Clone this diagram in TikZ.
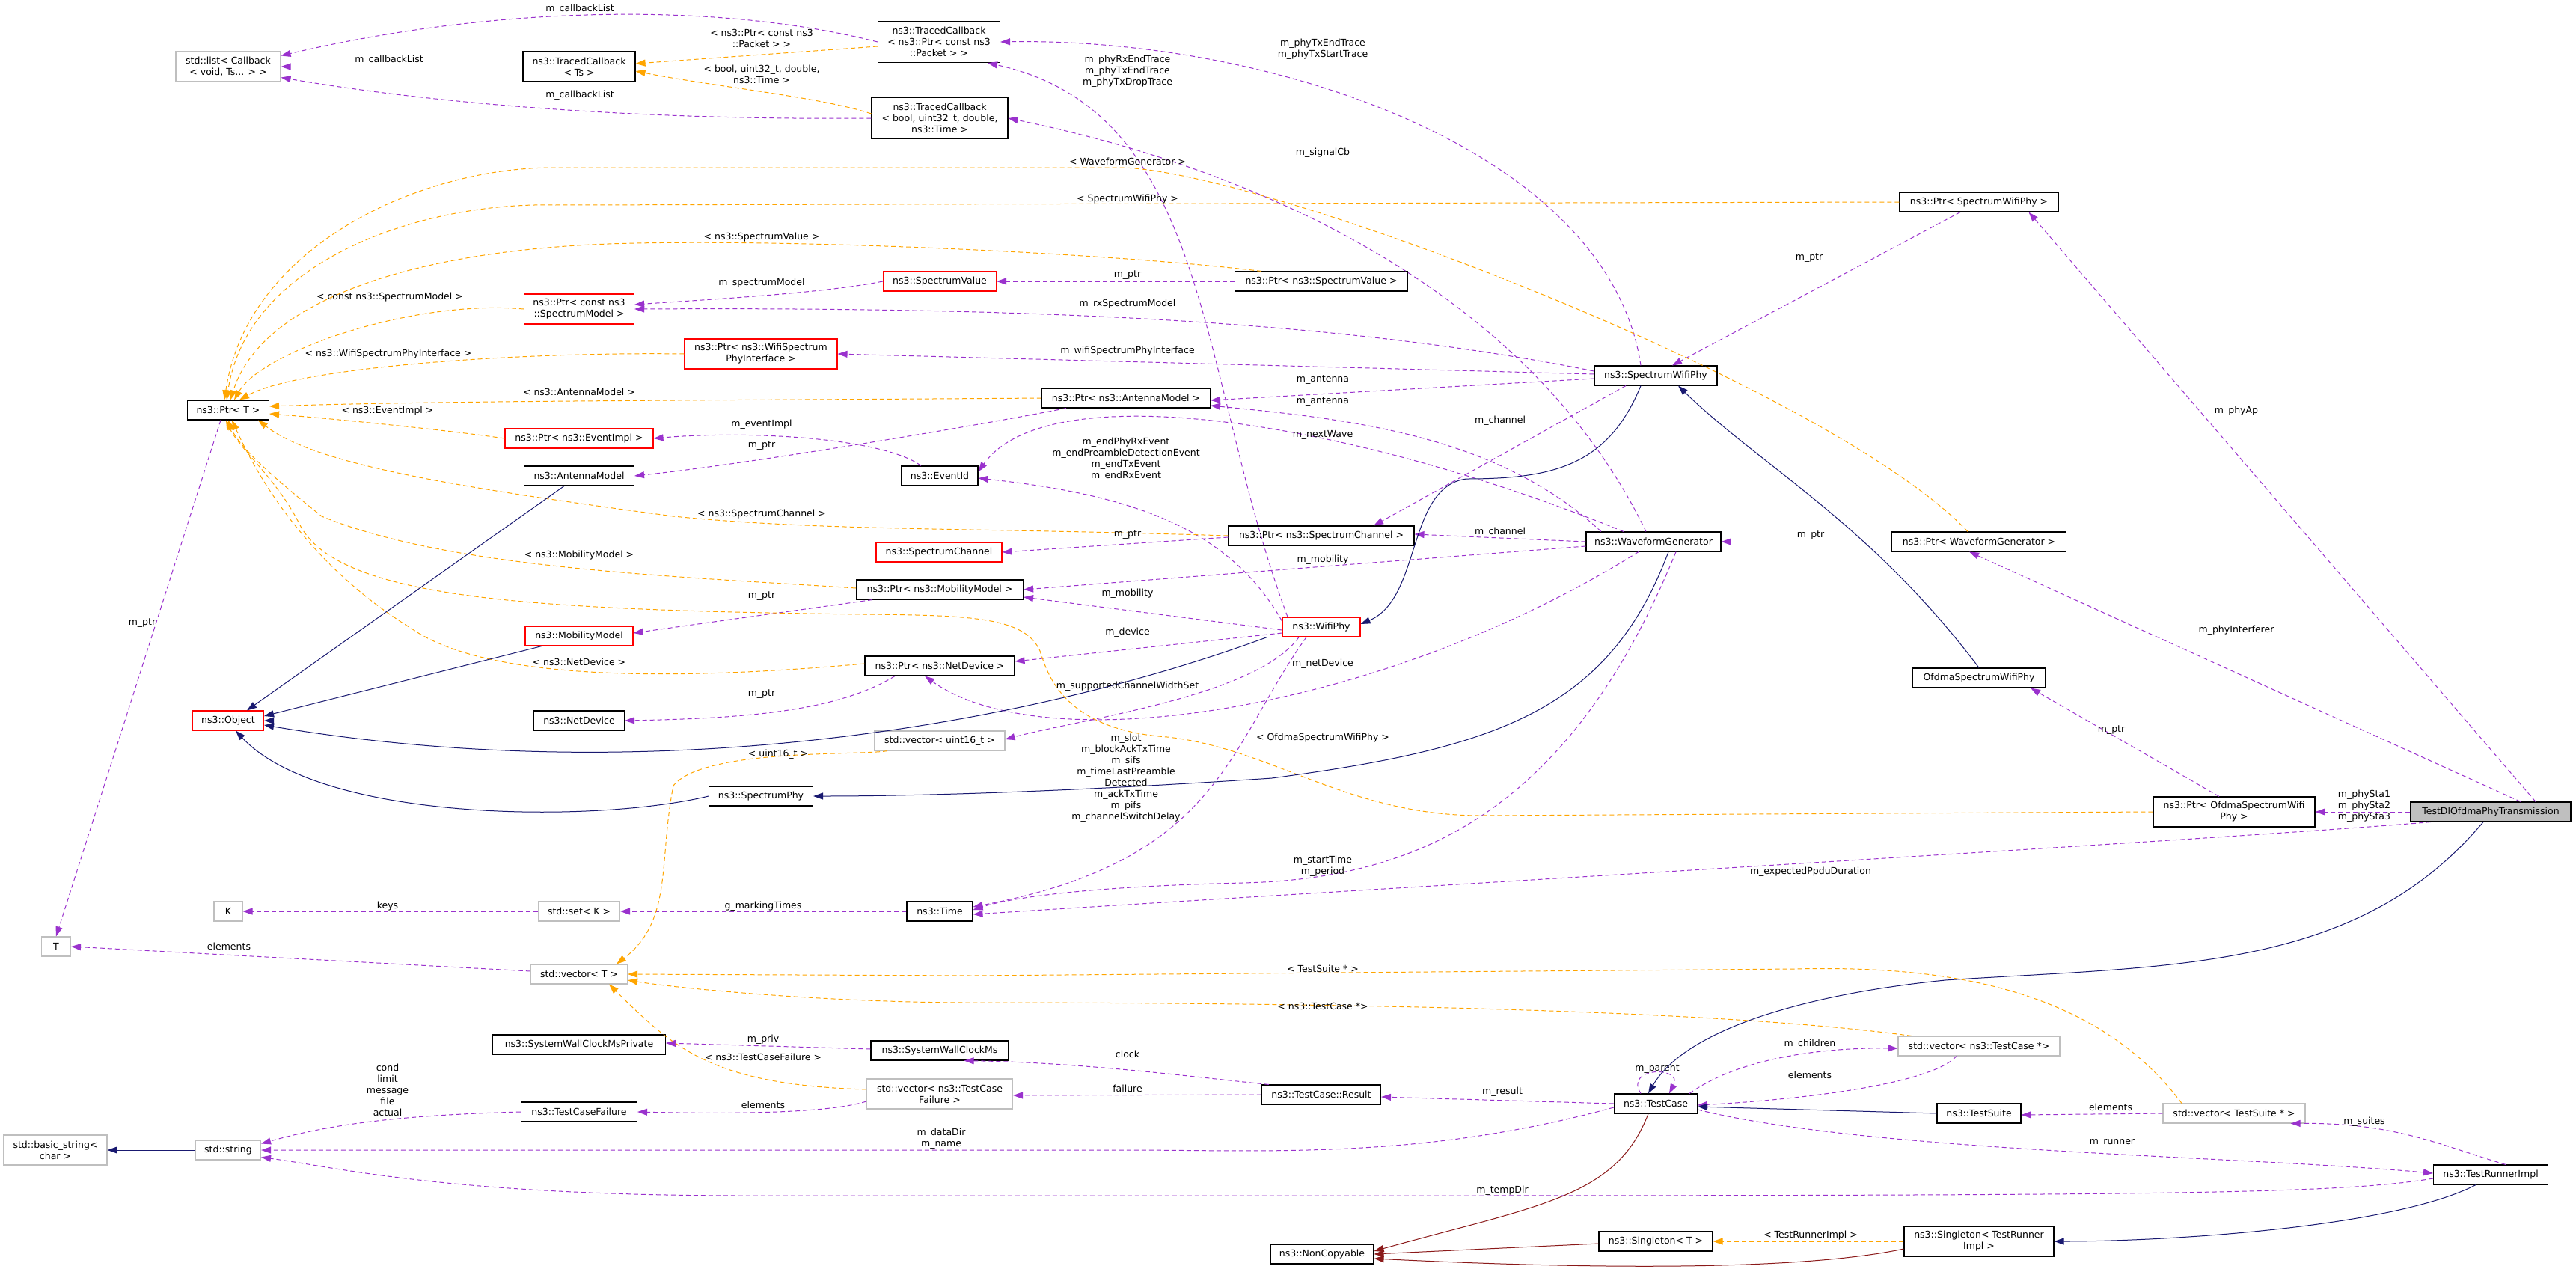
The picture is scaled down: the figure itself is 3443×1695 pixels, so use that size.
\documentclass[tikz,border=0pt]{standalone}
\usepackage{fontspec}
\setmainfont{DejaVu Sans}
\usetikzlibrary{arrows.meta}
\definecolor{cuse}{HTML}{9A32CD}
\definecolor{ctmpl}{HTML}{FFA500}
\definecolor{cinh}{HTML}{191970}
\definecolor{cpriv}{HTML}{8B1A1A}
\definecolor{cgray}{HTML}{BFBFBF}
\tikzset{
  box/.style={draw=black,line width=1.1pt,fill=white,font=\fontsize{12.5}{15}\selectfont,align=center,minimum height=26pt,inner sep=2pt},
  rbox/.style={box,draw=red},
  gbox/.style={box,draw=cgray},
  lbl/.style={font=\fontsize{12.5}{15}\selectfont,align=center,inner sep=0pt},
  tip/.style={-{Triangle[length=13pt,width=9pt]}},
  use/.style={tip,draw=cuse,line width=1pt,dash pattern=on 6pt off 4pt},
  tmpl/.style={tip,draw=ctmpl,line width=1pt,dash pattern=on 6pt off 4pt},
  inh/.style={tip,draw=cinh,line width=1pt},
  priv/.style={tip,draw=cpriv,line width=1pt},
}
\begin{document}
\begin{tikzpicture}[x=1pt,y=-1pt]
\useasboundingbox (0,0) rectangle (3443,1695);
% ---------- nodes ----------
\node[gbox,minimum width=140pt,minimum height=40pt] (stdlist) at (305,89) {std::list\textless{} Callback\\\textless{} void, Ts... \textgreater{} \textgreater{}};
\node[box,minimum width=150pt,minimum height=40pt] (tcts) at (774,89) {ns3::TracedCallback\\\textless{} Ts \textgreater{}};
\node[box,minimum width=163pt,minimum height=55pt] (tcpk) at (1255,56) {ns3::TracedCallback\\\textless{} ns3::Ptr\textless{} const ns3\\::Packet \textgreater{} \textgreater{}};
\node[box,minimum width=182pt,minimum height=55pt] (tcbool) at (1256,158) {ns3::TracedCallback\\\textless{} bool, uint32\_t, double,\\ns3::Time \textgreater{}};
\node[rbox,minimum width=147pt,minimum height=40pt] (pcsm) at (774,413) {ns3::Ptr\textless{} const ns3\\::SpectrumModel \textgreater{}};
\node[rbox,minimum width=204pt,minimum height=40pt] (pwspi) at (1017,473) {ns3::Ptr\textless{} ns3::WifiSpectrum\\PhyInterface \textgreater{}};
\node[box,minimum width=109pt] (ptrT) at (305,548) {ns3::Ptr\textless{} T \textgreater{}};
\node[rbox,minimum width=151pt] (sval) at (1256,376) {ns3::SpectrumValue};
\node[box,minimum width=231pt] (psval) at (1766,376) {ns3::Ptr\textless{} ns3::SpectrumValue \textgreater{}};
\node[box,minimum width=164pt] (swp) at (2213,502) {ns3::SpectrumWifiPhy};
\node[box,minimum width=225pt] (pant) at (1505,532) {ns3::Ptr\textless{} ns3::AntennaModel \textgreater{}};
\node[rbox,minimum width=198pt] (pevimpl) at (774,586) {ns3::Ptr\textless{} ns3::EventImpl \textgreater{}};
\node[box,minimum width=147pt] (antenna) at (774,636) {ns3::AntennaModel};
\node[rbox,minimum width=144pt] (mobmodel) at (774,850) {ns3::MobilityModel};
\node[rbox,minimum width=95pt] (object) at (305,963) {ns3::Object};
\node[box,minimum width=121pt] (netdev) at (774,963) {ns3::NetDevice};
\node[box,minimum width=139pt] (sphy) at (1017,1064) {ns3::SpectrumPhy};
\node[box,minimum width=102pt] (evid) at (1256,636) {ns3::EventId};
\node[box,minimum width=248pt] (pschan) at (1766,716) {ns3::Ptr\textless{} ns3::SpectrumChannel \textgreater{}};
\node[rbox,minimum width=168pt] (schan) at (1255,738) {ns3::SpectrumChannel};
\node[box,minimum width=223pt] (pmob) at (1256,788) {ns3::Ptr\textless{} ns3::MobilityModel \textgreater{}};
\node[rbox,minimum width=104pt] (wifiphy) at (1766,838) {ns3::WifiPhy};
\node[box,minimum width=200pt] (pnetdev) at (1256,890) {ns3::Ptr\textless{} ns3::NetDevice \textgreater{}};
\node[gbox,minimum width=174pt] (vu16) at (1256,990) {std::vector\textless{} uint16\_t \textgreater{}};
\node[box,minimum width=180pt] (wg) at (2210,724) {ns3::WaveformGenerator};
\node[box,minimum width=212pt] (pswp) at (2645,270) {ns3::Ptr\textless{} SpectrumWifiPhy \textgreater{}};
\node[box,minimum width=233pt] (pwg) at (2645,724) {ns3::Ptr\textless{} WaveformGenerator \textgreater{}};
\node[box,minimum width=177pt] (ospw) at (2645,906) {OfdmaSpectrumWifiPhy};
\node[box,minimum width=216pt,minimum height=40pt] (pospw) at (2986,1085) {ns3::Ptr\textless{} OfdmaSpectrumWifi\\Phy \textgreater{}};
\node[box,minimum width=214pt,fill=cgray] (testdl) at (3329,1085) {TestDlOfdmaPhyTransmission};
\node[gbox,minimum width=38pt] (kk) at (305,1218) {K};
\node[gbox,minimum width=109pt] (setk) at (774,1218) {std::set\textless{} K \textgreater{}};
\node[box,minimum width=88pt] (time) at (1256,1218) {ns3::Time};
\node[gbox,minimum width=39pt] (tt) at (75,1265) {T};
\node[gbox,minimum width=129pt] (vecT) at (774,1302) {std::vector\textless{} T \textgreater{}};
\node[box,minimum width=231pt] (swcmsp) at (774,1396) {ns3::SystemWallClockMsPrivate};
\node[box,minimum width=184pt] (swcms) at (1256,1404) {ns3::SystemWallClockMs};
\node[gbox,minimum width=195pt,minimum height=40pt] (vtcf) at (1256,1462) {std::vector\textless{} ns3::TestCase\\Failure \textgreater{}};
\node[box,minimum width=155pt] (tcf) at (774,1486) {ns3::TestCaseFailure};
\node[gbox,minimum width=138pt,minimum height=40pt] (bstr) at (74,1537) {std::basic\_string\textless{}\\char \textgreater{}};
\node[gbox,minimum width=87pt] (str) at (305,1537) {std::string};
\node[box,minimum width=159pt] (result) at (1766,1463) {ns3::TestCase::Result};
\node[box,minimum width=111pt] (testcase) at (2213,1475) {ns3::TestCase};
\node[gbox,minimum width=216pt] (vtcp) at (2645,1398) {std::vector\textless{} ns3::TestCase *\textgreater{}};
\node[box,minimum width=112pt] (tsuite) at (2645,1488) {ns3::TestSuite};
\node[gbox,minimum width=190pt] (vtsuite) at (2986,1488) {std::vector\textless{} TestSuite * \textgreater{}};
\node[box,minimum width=153pt] (trimpl) at (3329,1570) {ns3::TestRunnerImpl};
\node[box,minimum width=138pt] (noncop) at (1767,1676) {ns3::NonCopyable};
\node[box,minimum width=152pt] (singT) at (2213,1659) {ns3::Singleton\textless{} T \textgreater{}};
\node[box,minimum width=200pt,minimum height=40pt] (singTR) at (2645,1659) {ns3::Singleton\textless{} TestRunner\\Impl \textgreater{}};
% ---------- usage edges ----------
\draw[use] (tcpk.west) .. controls (950,0) and (650,10) .. ([yshift=-6pt]stdlist.north east);
\draw[use] (tcts.west) -- (stdlist.east);
\draw[use] (tcbool.west) .. controls (950,160) and (650,150) .. ([yshift=6pt]stdlist.south east);
\draw[use] (sval.west) .. controls (1100,392) and (950,400) .. ([yshift=6pt]pcsm.east);
\draw[use] ([yshift=6pt]swp.west) .. controls (1800,430) and (1400,410) .. (pcsm.east);
\draw[use] (psval.west) -- (sval.east);
\draw[use] ([yshift=2pt]swp.west) -- (pwspi.east);
\draw[use] ([yshift=-4pt]swp.west) -- ([yshift=-3pt]pant.east);
\draw[use] ([xshift=-70pt]wg.north) .. controls (2000,580) and (1800,560) .. ([yshift=-10pt]pant.east);
\draw[use] ([xshift=-80pt]pant.south) .. controls (1300,570) and (1000,620) .. (antenna.east);
\draw[use] ([xshift=-25pt]evid.north) .. controls (1180,585) and (1000,575) .. (pevimpl.east);
\draw[use] ([yshift=8pt]wifiphy.west) .. controls (1640,700) and (1500,660) .. ([yshift=-3pt]evid.east);
\draw[use] ([xshift=-40pt]wg.north) .. controls (1800,560) and (1400,500) .. ([yshift=-8pt]evid.north east);
\draw[use] ([xshift=-45pt]wifiphy.north) .. controls (1600,500) and (1620,150) .. ([xshift=65pt]tcpk.south);
\draw[use] ([xshift=-20pt]swp.north) .. controls (2150,200) and (1700,50) .. (tcpk.east);
\draw[use] ([xshift=-10pt]wg.north) .. controls (2050,400) and (1700,230) .. (tcbool.east);
\draw[use] ([xshift=-40pt]swp.south) -- ([xshift=70pt]pschan.north);
\draw[use] (wg.west) -- ([yshift=2pt]pschan.east);
\draw[use] ([yshift=-2pt]pschan.west) -- (schan.east);
\draw[use] ([yshift=-6pt]wg.west) -- (pmob.east);
\draw[use] ([yshift=-4pt]wifiphy.west) -- ([yshift=-10pt]pmob.east);
\draw[use] ([xshift=-90pt]pmob.south) -- ([yshift=4pt]mobmodel.east);
\draw[use] ([yshift=-8pt]wifiphy.west) -- ([yshift=6pt]pnetdev.east);
\draw[use] ([xshift=-20pt]wg.south) .. controls (1850,950) and (1400,1020) .. ([xshift=-20pt]pnetdev.south);
\draw[use] ([xshift=-60pt]pnetdev.south) .. controls (1120,950) and (1000,960) .. (netdev.east);
\draw[use] ([xshift=-30pt]wifiphy.south) .. controls (1680,930) and (1450,960) .. ([yshift=2pt]vu16.east);
\draw[use] ([xshift=-20pt]wifiphy.south) .. controls (1640,1000) and (1630,1150) .. ([yshift=6pt]time.east);
\draw[use] ([xshift=30pt]wg.south) .. controls (2100,1080) and (1900,1175) .. (1660,1180) .. controls (1450,1185) and (1350,1200) .. ([yshift=2pt]time.east);
\draw[use] ([xshift=-80pt]testdl.south) .. controls (3000,1120) and (1800,1190) .. ([yshift=-4pt]time.east);
\draw[use] ([xshift=-10pt]ptrT.south) -- (tt.north);
\draw[use] (setk.west) -- (kk.east);
\draw[use] (time.west) -- (setk.east);
\draw[use] ([yshift=4pt]vecT.west) -- (tt.east);
\draw[use] ([yshift=2pt]swcms.west) -- ([yshift=2pt]swcmsp.east);
\draw[use] ([yshift=-10pt]vtcf.west) .. controls (1100,1490) and (950,1488) .. (tcf.east);
\draw[use] (tcf.west) .. controls (550,1490) and (450,1500) .. ([yshift=-5pt]str.north east);
\draw[use] ([yshift=-5pt]testcase.west) .. controls (1900,1550) and (1700,1537) .. (1500,1537) -- (str.east);
\draw[use] ([yshift=-5pt]trimpl.west) .. controls (3100,1600) and (2800,1598) .. (1000,1598) .. controls (600,1598) and (450,1560) .. ([yshift=4pt]str.south east);
\draw[use] ([xshift=-70pt]result.north) .. controls (1600,1440) and (1450,1420) .. ([xshift=-60pt]swcms.south east);
\draw[use] (result.west) -- ([yshift=-2pt]vtcf.east);
\draw[use] (testcase.west) -- ([yshift=-3pt]result.east);
\draw[use] ([xshift=-20pt]testcase.north) .. controls (2170,1425) and (2250,1425) .. ([xshift=18pt]testcase.north);
\draw[use] ([xshift=45pt]testcase.north) .. controls (2330,1410) and (2450,1400) .. ([yshift=-3pt]vtcp.west);
\draw[use] ([xshift=-30pt]vtcp.south) .. controls (2580,1450) and (2400,1470) .. ([yshift=-2pt]testcase.east);
\draw[use] (vtsuite.west) -- ([yshift=-2pt]tsuite.east);
\draw[use] ([yshift=-8pt]testcase.east) .. controls (2500,1540) and (3000,1545) .. ([yshift=2pt]trimpl.west);
\draw[use] ([xshift=20pt]trimpl.north) .. controls (3260,1530) and (3200,1500) .. ([xshift=-20pt]vtsuite.south east);
\draw[use] ([xshift=-25pt]pswp.south) -- ([xshift=22pt]swp.north);
\draw[use] (pwg.west) -- (wg.east);
\draw[use] ([xshift=-20pt]pospw.north) -- ([xshift=-20pt]ospw.south east);
\draw[use] ([xshift=60pt]testdl.north) -- ([xshift=-40pt]pswp.south east);
\draw[use] ([xshift=40pt]testdl.north) -- ([xshift=-130pt]pwg.south east);
\draw[use] (testdl.west) -- (pospw.east);
% ---------- template edges ----------
\draw[tmpl] ([yshift=-6pt]tcpk.west) -- ([yshift=4pt]tcts.east);
\draw[tmpl] ([yshift=6pt]tcbool.west) .. controls (1100,130) and (950,115) .. ([yshift=-6pt]tcts.east);
\draw[tmpl] ([xshift=-15pt]pwg.north) .. controls (2450,520) and (1700,230) .. (1500,224) -- (740,224) .. controls (560,224) and (330,330) .. ([xshift=-5pt]ptrT.north);
\draw[tmpl] (pswp.west) -- (740,274) .. controls (560,270) and (330,350) .. ([xshift=-2pt]ptrT.north);
\draw[tmpl] ([xshift=-80pt]psval.north) .. controls (1500,340) and (1100,320) .. (850,325) .. controls (560,330) and (350,400) .. ([xshift=3pt]ptrT.north);
\draw[tmpl] (pcsm.west) .. controls (550,400) and (350,470) .. ([xshift=8pt]ptrT.north);
\draw[tmpl] (pwspi.west) .. controls (700,470) and (400,490) .. ([xshift=15pt]ptrT.north);
\draw[tmpl] (pant.west) .. controls (1000,535) and (600,535) .. ([yshift=5pt]ptrT.east);
\draw[tmpl] (pevimpl.west) .. controls (600,575) and (450,560) .. ([yshift=-5pt]ptrT.east);
\draw[tmpl] (pschan.west) .. controls (1300,705) and (1100,710) .. (900,690) .. controls (600,650) and (420,620) .. ([xshift=40pt]ptrT.south);
\draw[tmpl] ([yshift=2pt]pmob.west) .. controls (900,770) and (600,760) .. (430,690) .. controls (380,650) and (320,600) .. ([xshift=0pt]ptrT.south);
\draw[tmpl] (pospw.west) -- (1980,1090) .. controls (1800,1090) and (1700,1000) .. (1560,985) .. controls (1420,975) and (1400,900) .. (1390,870) .. controls (1370,825) and (1300,822) .. (1150,821) .. controls (700,815) and (450,800) .. (400,700) .. controls (370,640) and (320,600) .. ([xshift=-3pt]ptrT.south);
\draw[tmpl] ([yshift=3pt]pnetdev.west) .. controls (900,910) and (650,910) .. (550,840) .. controls (420,760) and (350,650) .. ([xshift=5pt]ptrT.south);
\draw[tmpl] ([xshift=-70pt]vu16.south) .. controls (1150,1010) and (940,1000) .. (900,1050) .. controls (880,1150) and (900,1230) .. ([xshift=50pt]vecT.north);
\draw[tmpl] ([xshift=-70pt]vtsuite.north) .. controls (2800,1320) and (2600,1290) .. (2400,1295) -- (1300,1304) -- (vecT.east);
\draw[tmpl] ([xshift=-90pt]vtcp.north) .. controls (2300,1350) and (1800,1340) .. (1300,1340) .. controls (1100,1340) and (900,1320) .. ([yshift=-8pt]vecT.east);
\draw[tmpl] ([yshift=6pt]vtcf.west) .. controls (950,1450) and (900,1400) .. ([xshift=40pt]vecT.south);
\draw[tmpl] (singTR.west) -- (singT.east);
% ---------- inheritance ----------
\draw[inh] ([xshift=-20pt]antenna.south) -- ([xshift=25pt]object.north);
\draw[inh] ([xshift=-50pt]mobmodel.south) -- ([yshift=6pt]object.east);
\draw[inh] (netdev.west) -- (object.east);
\draw[inh] ([xshift=-20pt]wifiphy.south west) .. controls (1400,960) and (900,1060) .. ([yshift=-6pt]object.east);
\draw[inh] (sphy.west) .. controls (800,1100) and (430,1100) .. ([xshift=10pt]object.south);
\draw[inh] ([xshift=-20pt]swp.south) .. controls (2150,620) and (2080,640) .. (1960,640) .. controls (1880,650) and (1900,800) .. ([yshift=4pt]wifiphy.east);
\draw[inh] (ospw.north) .. controls (2500,700) and (2350,620) .. ([xshift=30pt]swp.south);
\draw[inh] ([xshift=20pt]wg.south) .. controls (2150,950) and (2000,1000) .. (1700,1040) .. controls (1400,1060) and (1200,1064) .. (sphy.east);
\draw[inh] ([xshift=-10pt]testdl.south) .. controls (3150,1300) and (2900,1290) .. (2600,1310) .. controls (2400,1330) and (2250,1380) .. ([xshift=-10pt]testcase.north);
\draw[inh] (tsuite.west) -- ([yshift=-4pt]testcase.east);
\draw[inh] (str.west) -- (bstr.east);
\draw[inh] ([xshift=-20pt]trimpl.south) .. controls (3200,1640) and (2900,1659) .. (singTR.east);
\draw[priv] ([xshift=-10pt]testcase.south) .. controls (2160,1600) and (2060,1610) .. ([yshift=4pt]noncop.east);
\draw[priv] ([yshift=-3pt]singT.west) -- (noncop.east);
\draw[priv] ([yshift=-10pt]singTR.west) .. controls (2400,1700) and (2100,1695) .. ([yshift=-6pt]noncop.east);
% ---------- labels ----------
\node[lbl] (l1) at (775,12) {m\_callbackList};
\node[lbl] (l2) at (520,80) {m\_callbackList};
\node[lbl] (l3) at (775,127) {m\_callbackList};
\node[lbl] (l4) at (1018,51) {\textless{} ns3::Ptr\textless{} const ns3\\::Packet \textgreater{} \textgreater{}};
\node[lbl] (l5) at (1018,99) {\textless{} bool, uint32\_t, double,\\ns3::Time \textgreater{}};
\node[lbl] (l6) at (1507,95) {m\_phyRxEndTrace\\m\_phyTxEndTrace\\m\_phyTxDropTrace};
\node[lbl] (l7) at (1768,66) {m\_phyTxEndTrace\\m\_phyTxStartTrace};
\node[lbl] (l8) at (1768,204) {m\_signalCb};
\node[lbl] (l9) at (1507,216) {\textless{} WaveformGenerator \textgreater{}};
\node[lbl] (l10) at (1507,266) {\textless{} SpectrumWifiPhy \textgreater{}};
\node[lbl] (l11) at (1018,317) {\textless{} ns3::SpectrumValue \textgreater{}};
\node[lbl] (l12) at (1018,378) {m\_spectrumModel};
\node[lbl] (l13) at (1507,368) {m\_ptr};
\node[lbl] (l14) at (1507,406) {m\_rxSpectrumModel};
\node[lbl] (l15) at (521,397) {\textless{} const ns3::SpectrumModel \textgreater{}};
\node[lbl] (l16) at (519,473) {\textless{} ns3::WifiSpectrumPhyInterface \textgreater{}};
\node[lbl] (l17) at (1507,469) {m\_wifiSpectrumPhyInterface};
\node[lbl] (l18) at (1768,508) {m\_antenna};
\node[lbl] (l19) at (1768,537) {m\_antenna};
\node[lbl] (l20) at (774,524) {\textless{} ns3::AntennaModel \textgreater{}};
\node[lbl] (l21) at (518,549) {\textless{} ns3::EventImpl \textgreater{}};
\node[lbl] (l22) at (1018,567) {m\_eventImpl};
\node[lbl] (l23) at (1018,596) {m\_ptr};
\node[lbl] (l24) at (1505,614) {m\_endPhyRxEvent\\m\_endPreambleDetectionEvent\\m\_endTxEvent\\m\_endRxEvent};
\node[lbl] (l25) at (1768,581) {m\_nextWave};
\node[lbl] (l26) at (2005,562) {m\_channel};
\node[lbl] (l27) at (2005,711) {m\_channel};
\node[lbl] (l28) at (1507,715) {m\_ptr};
\node[lbl] (l29) at (1018,687) {\textless{} ns3::SpectrumChannel \textgreater{}};
\node[lbl] (l30) at (1768,748) {m\_mobility};
\node[lbl] (l31) at (1507,793) {m\_mobility};
\node[lbl] (l32) at (774,742) {\textless{} ns3::MobilityModel \textgreater{}};
\node[lbl] (l33) at (1018,797) {m\_ptr};
\node[lbl] (l34) at (1507,845) {m\_device};
\node[lbl] (l35) at (1768,887) {m\_netDevice};
\node[lbl] (l36) at (774,885) {\textless{} ns3::NetDevice \textgreater{}};
\node[lbl] (l37) at (1018,928) {m\_ptr};
\node[lbl] (l38) at (1507,917) {m\_supportedChannelWidthSet};
\node[lbl] (l39) at (1040,1008) {\textless{} uint16\_t \textgreater{}};
\node[lbl] (l40) at (1505,1040) {m\_slot\\m\_blockAckTxTime\\m\_sifs\\m\_timeLastPreamble\\Detected\\m\_ackTxTime\\m\_pifs\\m\_channelSwitchDelay};
\node[lbl] (l41) at (1768,986) {\textless{} OfdmaSpectrumWifiPhy \textgreater{}};
\node[lbl] (l42) at (1768,1158) {m\_startTime\\m\_period};
\node[lbl] (l43) at (2420,1165) {m\_expectedPpduDuration};
\node[lbl] (l44) at (190,833) {m\_ptr};
\node[lbl] (l45) at (518,1211) {keys};
\node[lbl] (l46) at (1020,1211) {g\_markingTimes};
\node[lbl] (l47) at (306,1265) {elements};
\node[lbl] (l48) at (1768,1295) {\textless{} TestSuite * \textgreater{}};
\node[lbl] (l49) at (1768,1345) {\textless{} ns3::TestCase *\textgreater{}};
\node[lbl] (l50) at (1020,1389) {m\_priv};
\node[lbl] (l51) at (1020,1413) {\textless{} ns3::TestCaseFailure \textgreater{}};
\node[lbl] (l52) at (1020,1477) {elements};
\node[lbl] (l53) at (518,1457) {cond\\limit\\message\\file\\actual};
\node[lbl] (l54) at (1258,1522) {m\_dataDir\\m\_name};
\node[lbl] (l55) at (2008,1591) {m\_tempDir};
\node[lbl] (l56) at (1507,1409) {clock};
\node[lbl] (l57) at (1507,1455) {failure};
\node[lbl] (l58) at (2008,1459) {m\_result};
\node[lbl] (l59) at (2215,1429) {m\_parent};
\node[lbl] (l60) at (2419,1395) {m\_children};
\node[lbl] (l61) at (2419,1437) {elements};
\node[lbl] (l62) at (2821,1480) {elements};
\node[lbl] (l63) at (2823,1527) {m\_runner};
\node[lbl] (l64) at (3160,1499) {m\_suites};
\node[lbl] (l65) at (2420,1651) {\textless{} TestRunnerImpl \textgreater{}};
\node[lbl] (l66) at (2418,345) {m\_ptr};
\node[lbl] (l67) at (2420,716) {m\_ptr};
\node[lbl] (l68) at (2822,976) {m\_ptr};
\node[lbl] (l69) at (2989,549) {m\_phyAp};
\node[lbl] (l70) at (2989,842) {m\_phyInterferer};
\node[lbl] (l71) at (3160,1077) {m\_phySta1\\m\_phySta2\\m\_phySta3};
\end{tikzpicture}
\end{document}
